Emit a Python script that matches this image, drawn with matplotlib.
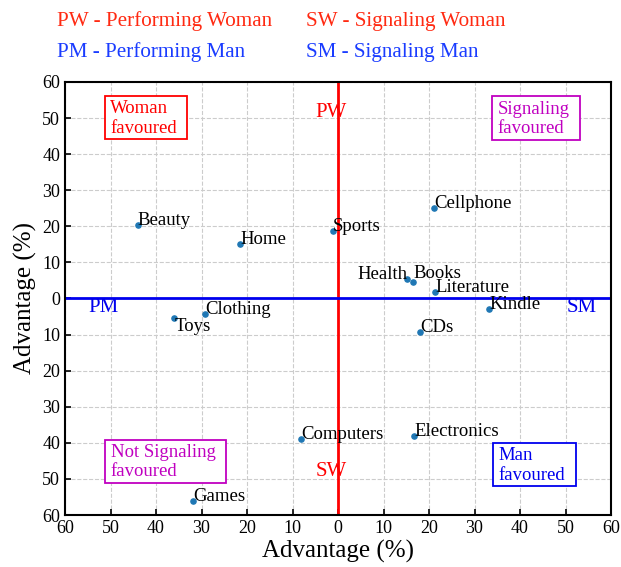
import matplotlib
matplotlib.use("Agg")
import matplotlib.pyplot as plt
from matplotlib.patches import Rectangle

plt.rcParams['font.family'] = ['Liberation Serif', 'DejaVu Serif']

# product categories and their advantage values (%)
products = ["Beauty", "Home", "Sports", "Cellphone", "Health", "Books", "Literature",
            "Kindle", "CDs", "Clothing", "Toys", "Computers", "Electronics", "Games"]
x_adv = [-44.0, -21.5, -1.1, 21.1, 15.2, 16.5, 21.3, 33.2, 18.0, -29.2, -36.0, -8.1, 16.7, -31.9]
y_adv = [20.5, 15.2, 18.8, 25.2, 5.5, 4.7, 1.9, -3.0, -9.4, -4.4, -5.3, -39.0, -38.0, -56.0]

ticks = list(range(-60, 61, 10))
tick_labels = [str(abs(t)) for t in ticks]

red = "#ff2a12"
blue = "#1a3cff"
magenta = "#c000c0"

fig = plt.figure(figsize=(6.21, 5.67), dpi=100)
ax = fig.add_axes([0.1047, 0.0917, 0.8793, 0.7637])

ax.grid(True, linestyle='--', color='#cccccc', linewidth=0.8)
ax.set_axisbelow(True)
ax.axvline(0, color='red', linewidth=2)
ax.axhline(0, color='#0000ee', linewidth=2)

ax.scatter(x_adv, y_adv, s=14, color='#1f77b4', zorder=3)
for name, xv, yv in zip(products, x_adv, y_adv):
    ha, va = 'left', 'baseline'
    if name == "Health":
        ha = 'right'
    elif name == "Toys":
        va = 'top'
    elif name == "Books":
        va = 'bottom'
    ax.text(xv, yv, name, fontsize=13.5, ha=ha, va=va)

# quadrant markers
ax.text(-1.5, 51.5, "PW", color='red', fontsize=15, ha='center', va='center')
ax.text(-1.5, -48, "SW", color='red', fontsize=15, ha='center', va='center')
ax.text(-51.5, -2.5, "PM", color='#0000ee', fontsize=15, ha='center', va='center')
ax.text(53.5, -2.5, "SM", color='#0000ee', fontsize=15, ha='center', va='center')

# corner boxes: (text, colour, x0, y0, x1, y1)
boxes = [
    ("Woman\nfavoured", 'red', -51.3, 44.3, -33.2, 56.0),
    ("Signaling\nfavoured", magenta, 33.8, 43.8, 53.2, 56.0),
    ("Not Signaling\nfavoured", magenta, -51.2, -51.2, -24.6, -39.1),
    ("Man\nfavoured", '#0000ee', 34.0, -52.1, 52.2, -40.0),
]
for txt, col, x0, y0, x1, y1 in boxes:
    ax.add_patch(Rectangle((x0, y0), x1 - x0, y1 - y0, fill=True, fc='white',
                           ec=col, lw=1.3, zorder=2))
    ax.text(x0 + 1.2, (y0 + y1) / 2 - 0.2, txt, color=col, fontsize=13.5,
            ha='left', va='center', linespacing=1.2, zorder=3)

ax.set_xlim(-60, 60)
ax.set_ylim(-60, 60)
ax.set_xticks(ticks)
ax.set_xticklabels(tick_labels)
ax.set_yticks(ticks)
ax.set_yticklabels(tick_labels)
ax.tick_params(direction='in', labelsize=13, length=4, width=1.2)
for sp in ax.spines.values():
    sp.set_linewidth(1.5)

ax.set_xlabel("Advantage (%)", fontsize=18, labelpad=2)
ax.set_ylabel("Advantage (%)", fontsize=18, labelpad=4)

# header legend
fig.text(0.092, 0.962, "PW - Performing Woman", color=red, fontsize=15.2, va='center')
fig.text(0.493, 0.962, "SW - Signaling Woman", color=red, fontsize=15.2, va='center')
fig.text(0.092, 0.908, "PM - Performing Man", color=blue, fontsize=15.2, va='center')
fig.text(0.493, 0.908, "SM - Signaling Man", color=blue, fontsize=15.2, va='center')

fig.savefig("out.png", dpi=100)
